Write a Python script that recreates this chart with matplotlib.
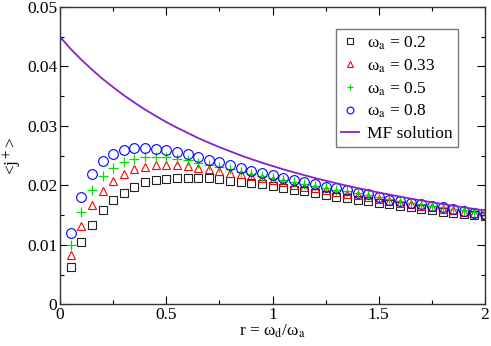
import numpy as np
import matplotlib
matplotlib.use('Agg')
import matplotlib.pyplot as plt
from matplotlib.ticker import MultipleLocator

plt.rcParams['font.family'] = ['Liberation Serif', 'DejaVu Serif']
plt.rcParams['mathtext.fontset'] = 'stix'

# r = omega_d / omega_a
r = np.arange(1, 41) * 0.05

# <j+> for each omega_a
j_02 = [0.0063, 0.0104, 0.0133, 0.0159, 0.0175, 0.0188, 0.0198, 0.0205, 0.0209, 0.0211,
        0.0212, 0.0213, 0.0213, 0.0212, 0.0210, 0.0208, 0.0206, 0.0204, 0.0202, 0.0199,
        0.0196, 0.0193, 0.0190, 0.0187, 0.0184, 0.0181, 0.0179, 0.0176, 0.0173, 0.0171,
        0.0168, 0.0166, 0.0163, 0.0160, 0.0158, 0.0156, 0.0154, 0.0152, 0.0150, 0.0148]
j_033 = [0.0083, 0.0132, 0.0167, 0.0191, 0.0208, 0.0219, 0.0228, 0.0231, 0.0234, 0.0235,
         0.0234, 0.0232, 0.0230, 0.0227, 0.0224, 0.0221, 0.0219, 0.0215, 0.0212, 0.0209,
         0.0205, 0.0201, 0.0198, 0.0195, 0.0192, 0.0189, 0.0186, 0.0183, 0.0180, 0.0177,
         0.0174, 0.0171, 0.0168, 0.0165, 0.0163, 0.0160, 0.0158, 0.0155, 0.0153, 0.0151]
j_05 = [0.0100, 0.0155, 0.0192, 0.0215, 0.0230, 0.0240, 0.0245, 0.0248, 0.0248, 0.0247,
        0.0244, 0.0242, 0.0238, 0.0234, 0.0231, 0.0227, 0.0223, 0.0219, 0.0215, 0.0212,
        0.0209, 0.0206, 0.0202, 0.0199, 0.0196, 0.0193, 0.0190, 0.0187, 0.0184, 0.0180,
        0.0177, 0.0174, 0.0171, 0.0168, 0.0166, 0.0163, 0.0160, 0.0158, 0.0155, 0.0153]
j_08 = [0.0120, 0.0181, 0.0219, 0.0241, 0.0253, 0.0260, 0.0263, 0.0263, 0.0262, 0.0259,
        0.0256, 0.0252, 0.0248, 0.0243, 0.0239, 0.0234, 0.0230, 0.0225, 0.0221, 0.0217,
        0.0213, 0.0209, 0.0206, 0.0202, 0.0198, 0.0195, 0.0192, 0.0188, 0.0185, 0.0181,
        0.0176, 0.0173, 0.0170, 0.0168, 0.0166, 0.0163, 0.0160, 0.0157, 0.0154, 0.0152]

# mean field solution
r_mf = np.arange(0, 41) * 0.05
j_mf = [0.04500, 0.04295, 0.04115, 0.03948, 0.03792, 0.03651, 0.03516, 0.03393, 0.03276,
        0.03168, 0.03065, 0.02971, 0.02884, 0.02796, 0.02718, 0.02643, 0.02574, 0.02505,
        0.02442, 0.02382, 0.02326, 0.02271, 0.02220, 0.02171, 0.02124, 0.02079, 0.02036,
        0.01995, 0.01955, 0.01917, 0.01880, 0.01845, 0.01811, 0.01778, 0.01746, 0.01716,
        0.01686, 0.01657, 0.01630, 0.01603, 0.01578]

fig = plt.figure(figsize=(4.91, 3.46), dpi=100)
ax = fig.add_axes([0.1222, 0.1205, 0.8656, 0.8593])

ax.plot(r, j_02, 's', ms=5.5, mfc='none', mec='#222222', mew=0.8, label=r'ω$_\mathrm{a}$ = 0.2')
ax.plot(r, j_033, '^', ms=6.3, mfc='none', mec='red', mew=0.8, label=r'ω$_\mathrm{a}$ = 0.33')
ax.plot(r, j_05, '+', ms=7, mec='#00e000', mew=0.9, label=r'ω$_\mathrm{a}$ = 0.5')
ax.plot(r, j_08, 'o', ms=7, mfc='none', mec='blue', mew=0.8, label=r'ω$_\mathrm{a}$ = 0.8')
ax.plot(r_mf, j_mf, '-', color='#8a1fd0', lw=1.3, label='MF solution')

ax.set_xlim(0, 2)
ax.set_ylim(0, 0.05)
ax.xaxis.set_minor_locator(MultipleLocator(0.25))
ax.yaxis.set_minor_locator(MultipleLocator(0.005))
ax.set_xticks([0, 0.5, 1, 1.5, 2], ['0', '0.5', '1', '1.5', '2'])
ax.set_yticks([0, 0.01, 0.02, 0.03, 0.04, 0.05], ['0', '0.01', '0.02', '0.03', '0.04', '0.05'])
ax.tick_params(which='both', direction='in', top=True, right=True, labelsize=12.5, width=0.8)
ax.tick_params(which='major', length=6, pad=2)
ax.tick_params(which='minor', length=3)
for s in ax.spines.values():
    s.set_linewidth(1.0)
    s.set_color('#333333')

ax.set_xlabel(r'r = ω$_\mathrm{d}$/ω$_\mathrm{a}$', fontsize=12.5, labelpad=0)
ax.set_ylabel(r'<j$^+$>', fontsize=12.5, labelpad=2)

leg = ax.legend(loc='upper right', bbox_to_anchor=(0.9365, 0.926), borderaxespad=0,
                fontsize=12.5, markerscale=0.7, handlelength=1.0, handletextpad=0.5,
                labelspacing=0.32, borderpad=0.3, fancybox=False, framealpha=1,
                edgecolor='#777777')
leg.get_frame().set_linewidth(1.0)

plt.savefig('out.png', dpi=100)
